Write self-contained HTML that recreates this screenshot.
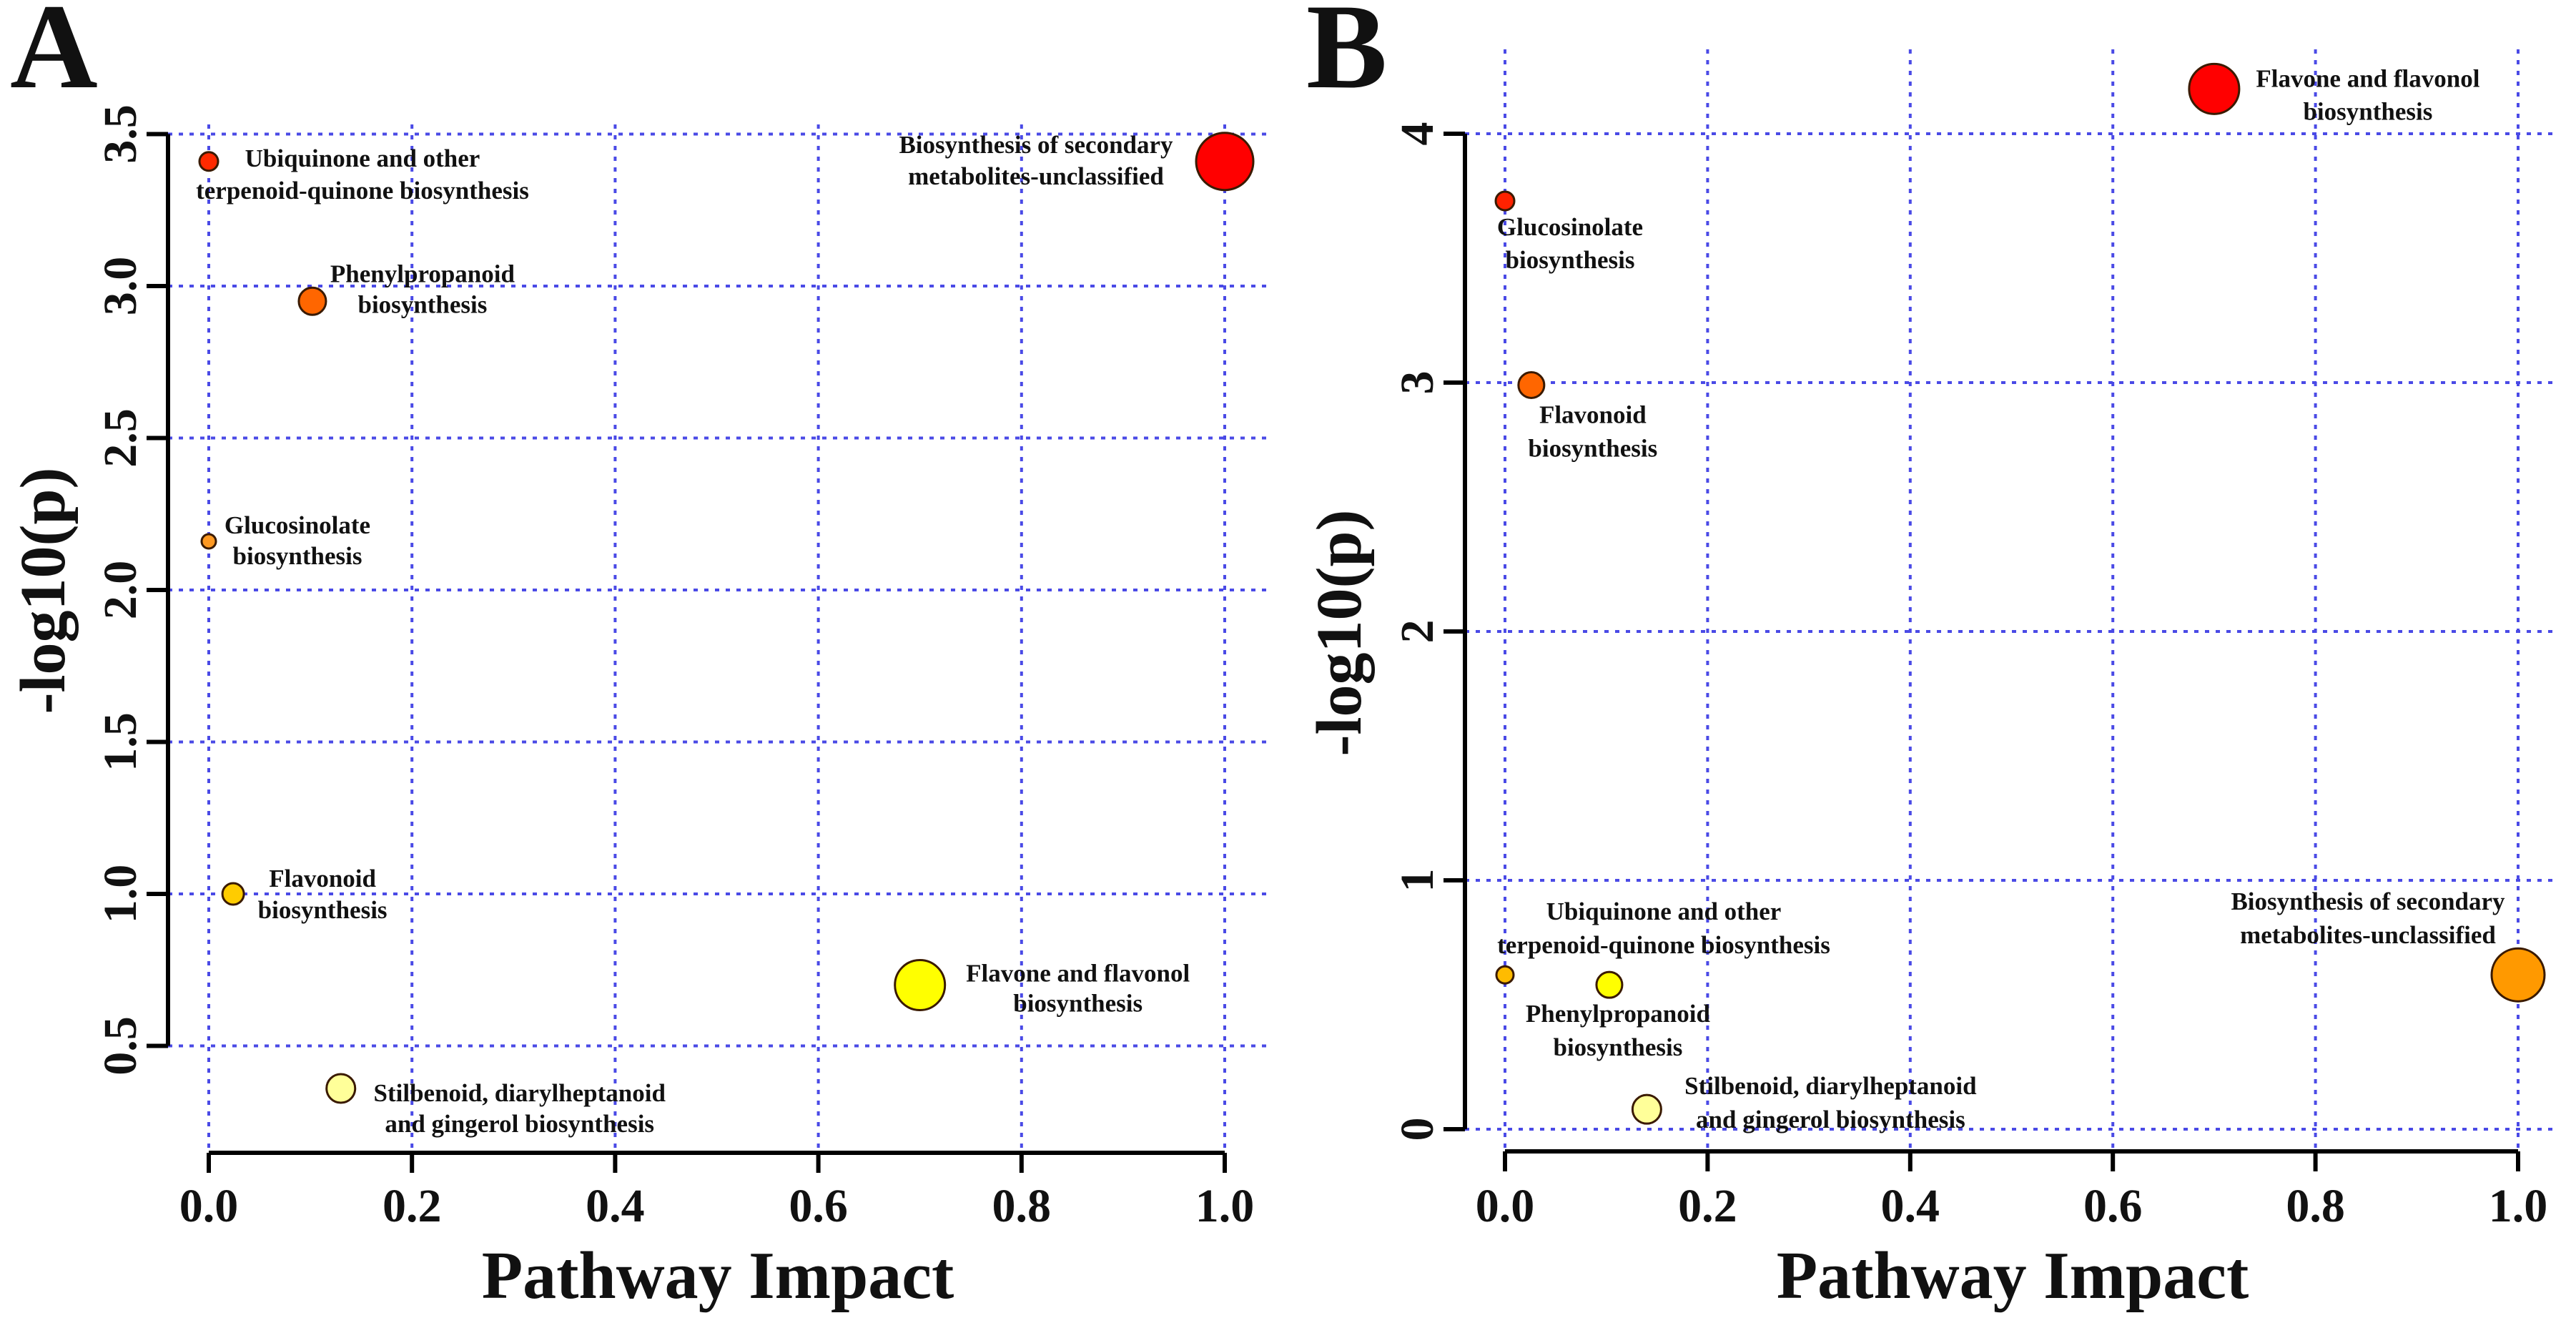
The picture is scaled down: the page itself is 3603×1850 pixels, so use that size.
<!DOCTYPE html>
<html><head><meta charset="utf-8"><style>
html,body{margin:0;padding:0;background:#fff;}
svg{display:block;}
text{font-family:"Liberation Serif",serif;font-weight:bold;fill:#111;}
</style></head><body>
<svg id="fig" width="3603" height="1850" viewBox="0 0 3603 1850" xmlns="http://www.w3.org/2000/svg"></svg>
<script>
// ---- Panel A data ----
const aNames = ["Ubiquinone and other|terpenoid-quinone biosynthesis","Biosynthesis of secondary|metabolites-unclassified","Phenylpropanoid|biosynthesis","Glucosinolate|biosynthesis","Flavonoid|biosynthesis","Flavone and flavonol|biosynthesis","Stilbenoid, diarylheptanoid|and gingerol biosynthesis"];
const aImpact = [0.0, 1.0, 0.102, 0.0, 0.024, 0.70, 0.13];
const aLogP = [3.41, 3.41, 2.95, 2.16, 1.0, 0.70, 0.36];
const aSize = [13, 40, 19, 10, 15, 35, 20];
const aColor = ["#ff2a00","#ff0000","#ff6600","#ff9922","#ffcc00","#ffff00","#ffff99"];
const aYTicks = [0.5,1.0,1.5,2.0,2.5,3.0,3.5];
const aYTickLabels = ["0.5","1.0","1.5","2.0","2.5","3.0","3.5"];
// ---- Panel B data ----
const bNames = ["Flavone and flavonol|biosynthesis","Glucosinolate|biosynthesis","Flavonoid|biosynthesis","Ubiquinone and other|terpenoid-quinone biosynthesis","Phenylpropanoid|biosynthesis","Stilbenoid, diarylheptanoid|and gingerol biosynthesis","Biosynthesis of secondary|metabolites-unclassified"];
const bImpact = [0.70, 0.0, 0.026, 0.0, 0.103, 0.14, 1.0];
const bLogP = [4.18, 3.73, 2.99, 0.62, 0.58, 0.08, 0.62];
const bSize = [35, 13, 18, 12, 18, 20, 37];
const bColor = ["#ff0000","#ff2200","#ff6600","#ffbb00","#ffff00","#ffff99","#ff9900"];
const bYTicks = [0,1,2,3,4];
const bYTickLabels = ["0","1","2","3","4"];
const xTicks = [0,0.2,0.4,0.6,0.8,1.0];
const xTickLabels = ["0.0","0.2","0.4","0.6","0.8","1.0"];
// label offsets relative to points (layout, not data): [dx, dy1, dy2]
const aLab = [[215,7,52],[-264,-12,32],[154,-27,16],[124,-11,32],[125,-10,34],[221,-5,37],[250,18,61]];
const bLab = [[215,-3,43],[91,48,94],[86,53,100],[222,-77,-30],[12,52,99],[257,-21,26],[-210,-91,-44]];

const NS="http://www.w3.org/2000/svg";
const svg=document.getElementById('fig');
function el(tag,attrs,parent){const e=document.createElementNS(NS,tag);for(const k in attrs)e.setAttribute(k,attrs[k]);(parent||svg).appendChild(e);return e;}

function panel(cfg){
  const g=el('g',{});
  
  
  const sx=v=>cfg.x0+(cfg.x1-cfg.x0)*v;
  const sy=v=>cfg.yBot+(cfg.yTop-cfg.yBot)*(v-cfg.yMin)/(cfg.yMax-cfg.yMin);
  // grid
  const grid=el('g',{stroke:'#4a4ae6','stroke-width':4,'stroke-dasharray':'6,9',fill:'none'},g);
  
  
  xTicks.forEach(t=>{el('line',{x1:sx(t),x2:sx(t),y1:cfg.gridTop,y2:cfg.xAxisY},grid);});
  cfg.yTicks.forEach(t=>{el('line',{x1:cfg.axisX,x2:cfg.gridRight,y1:sy(t),y2:sy(t)},grid);});
  // axes
  const ya=el('path',{d:`M${cfg.axisX},${sy(cfg.yTicks[0])}V${sy(cfg.yTicks[cfg.yTicks.length-1])}`,stroke:'#000','stroke-width':6,fill:'none'},g);
  
  
  const xa=el('path',{d:`M${sx(0)},${cfg.xAxisY}H${sx(1)}`,stroke:'#000','stroke-width':6,fill:'none'},g);
  
  
  cfg.yTicks.forEach((t,i)=>{
    el('line',{x1:cfg.axisX-30,x2:cfg.axisX,y1:sy(t),y2:sy(t),stroke:'#000','stroke-width':6},g);
    const tx=el('text',{x:0,y:0,'font-size':66,'text-anchor':'middle',transform:`translate(${cfg.yLabX},${sy(t)}) rotate(-90)`},g);
    
    
    tx.textContent=cfg.yTickLabels[i];
  });
  xTicks.forEach((t,i)=>{
    el('line',{x1:sx(t),x2:sx(t),y1:cfg.xAxisY,y2:cfg.xAxisY+28,stroke:'#000','stroke-width':6},g);
    const tx=el('text',{x:sx(t),y:1708,'font-size':66,'text-anchor':'middle'},g);
    
    
    tx.textContent=xTickLabels[i];
  });
  // points + labels
  cfg.names.forEach((n,i)=>{
    const cx=sx(cfg.impact[i]), cy=sy(cfg.logp[i]);
    const c=el('circle',{cx:cx,cy:cy,r:cfg.size[i],fill:cfg.color[i],stroke:'#3a1a00','stroke-width':3},g);
    
    
    const parts=n.split('|');
    const lb=cfg.lab[i];
    parts.forEach((p,j)=>{
      const t=el('text',{x:cx+lb[0],y:cy+lb[1+j],'font-size':35,'text-anchor':'middle'},g);
      
      
      t.textContent=p;
    });
  });
  // titles
  const xt=el('text',{x:cfg.xTitleX,y:1815,'font-size':94,'text-anchor':'middle'},g);
  
  
  xt.textContent='Pathway Impact';
  const yt=el('text',{x:0,y:0,'font-size':90,'text-anchor':'middle',transform:`translate(${cfg.yTitleX},${cfg.yTitleY}) rotate(-90)`},g);
  
  
  yt.textContent='-log10(p)';
  const pl=el('text',{x:cfg.letterX,y:122,'font-size':170},g);
  
  
  pl.textContent=cfg.letter;
}

panel({id:'a',letter:'A',letterX:14,x0:292,x1:1713,yBot:1462.5,yTop:187.5,yMin:0.5,yMax:3.5,axisX:235,xAxisY:1612,gridTop:174,gridRight:1771,yLabX:190,
  yTicks:aYTicks,yTickLabels:aYTickLabels,names:aNames,impact:aImpact,logp:aLogP,size:aSize,color:aColor,lab:aLab,xTitleX:1004,yTitleX:90,yTitleY:826});
panel({id:'b',letter:'B',letterX:1827,x0:2105,x1:3522,yBot:1579,yTop:187,yMin:0,yMax:4,axisX:2049,xAxisY:1610,gridTop:69,gridRight:3579,yLabX:2004,
  yTicks:bYTicks,yTickLabels:bYTickLabels,names:bNames,impact:bImpact,logp:bLogP,size:bSize,color:bColor,lab:bLab,xTitleX:2815,yTitleX:1903,yTitleY:885});
</script>
</body></html>
